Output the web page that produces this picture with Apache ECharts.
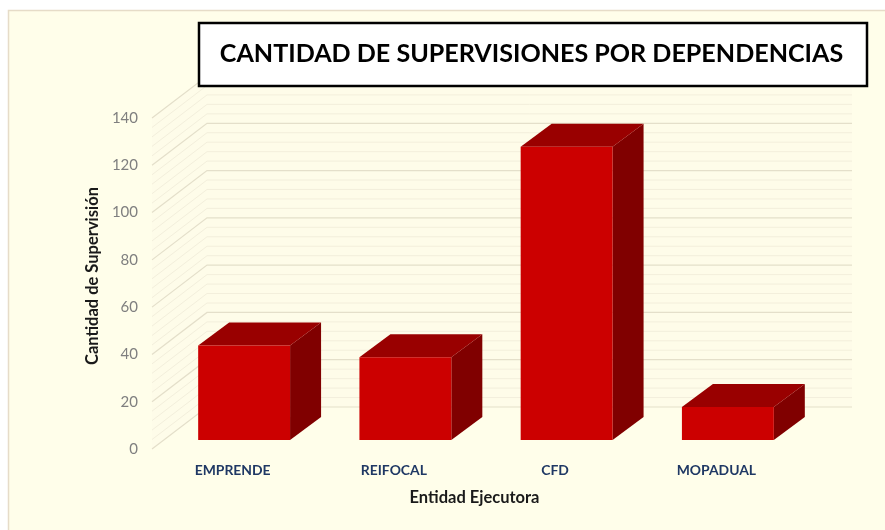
<!DOCTYPE html>
<html>
<head>
<meta charset="utf-8">
<style>html,body{margin:0;padding:0;background:#fff}#c{width:885px;height:530px}</style>
<script src="https://cdn.jsdelivr.net/npm/echarts@6/dist/echarts.min.js"></script>
</head>
<body>
<div id="c"></div>
<script>
const categories = ['EMPRENDE', 'REIFOCAL', 'CFD', 'MOPADUAL'];
const supervisiones = [40, 35, 124, 14];
const majorTicks = [0, 20, 40, 60, 80, 100, 120, 140];
const minorTicks = [4, 8, 12, 16, 24, 28, 32, 36, 44, 48, 52, 56, 64, 68, 72, 76, 84, 88, 92, 96, 104, 108, 112, 116, 124, 128, 132, 136];
const titleText = 'CANTIDAD DE SUPERVISIONES POR DEPENDENCIAS';
const xName = 'Entidad Ejecutora';
const yName = 'Cantidad de Supervisión';

const FONT = 'Lato, "Open Sans", sans-serif';
const WALL_DX = 55, WALL_DY = -42;
const BASE_DX = 11.5, BASE_DY = -9;
const DEPTH_DX = 31, DEPTH_DY = -23;
const BAR_RATIO = 0.57;

function wallItem(params, api) {
  const cs = params.coordSys;
  const yBottom = api.coord([0, 0])[1];
  const yTop = api.coord([0, 140])[1];
  const xL = cs.x, xR = cs.x + cs.width;
  return {
    type: 'polygon',
    shape: { points: [
      [xL, yBottom], [xL + WALL_DX, yBottom + WALL_DY], [xR + WALL_DX, yBottom + WALL_DY],
      [xR + WALL_DX, yTop + WALL_DY], [xL + WALL_DX, yTop + WALL_DY], [xL, yTop]
    ] },
    style: { fill: '#fefce9' }
  };
}

function gridItem(color, width) {
  return function (params, api) {
    const cs = params.coordSys;
    const y = api.coord([0, api.value(1)])[1];
    const xL = cs.x, xR = cs.x + cs.width;
    return {
      type: 'polyline',
      shape: { points: [[xL, y], [xL + WALL_DX, y + WALL_DY], [xR + WALL_DX, y + WALL_DY]] },
      style: { stroke: color, lineWidth: width, fill: null }
    };
  };
}

function barItem(params, api) {
  const idx = api.value(0);
  const base = api.coord([idx, 0]);
  const top = api.coord([idx, api.value(1)]);
  const w = api.size([1, 0])[0] * BAR_RATIO;
  const x0 = base[0] + BASE_DX - w / 2, x1 = x0 + w;
  const yb = base[1] + BASE_DY, yt = top[1] + BASE_DY;
  const poly = (points, fill) => ({ type: 'polygon', shape: { points }, style: { fill } });
  return {
    type: 'group',
    children: [
      poly([[x1, yb], [x1 + DEPTH_DX, yb + DEPTH_DY], [x1 + DEPTH_DX, yt + DEPTH_DY], [x1, yt]], '#800000'),
      poly([[x0, yt], [x0 + DEPTH_DX, yt + DEPTH_DY], [x1 + DEPTH_DX, yt + DEPTH_DY], [x1, yt]], '#990000'),
      poly([[x0, yb], [x1, yb], [x1, yt], [x0, yt]], '#cc0000')
    ]
  };
}

const chart = echarts.init(document.getElementById('c'), null, { renderer: 'canvas' });
chart.setOption({
  animation: false,
  backgroundColor: '#ffffff',
  title: {
    text: titleText,
    left: 526.5, top: 36, textAlign: 'center', z: 20,
    textStyle: { fontFamily: FONT, fontWeight: 'bold', fontSize: 25.1, color: '#000000' }
  },
  graphic: [
    { type: 'rect', z: -100, silent: true, shape: { x: 8.5, y: 10.5, width: 890, height: 530 },
      style: { fill: '#fffeea', stroke: '#e6dcc8', lineWidth: 1.5 } },
    { type: 'rect', z: 10, silent: true, shape: { x: 199, y: 23, width: 668, height: 63 },
      style: { fill: '#ffffff', stroke: '#000000', lineWidth: 2.5 } }
  ],
  grid: { left: 152, top: 118, width: 645, height: 331 },
  xAxis: {
    type: 'category', data: categories,
    name: xName, nameLocation: 'middle', nameGap: 40,
    nameTextStyle: { fontFamily: FONT, fontWeight: 'bold', fontSize: 16.5, color: '#1a1a1a' },
    axisLine: { show: false }, axisTick: { show: false }, splitLine: { show: false },
    axisLabel: { fontFamily: FONT, fontWeight: 'bold', fontSize: 13.9, color: '#1f3864', margin: 15 }
  },
  yAxis: {
    type: 'value', min: 0, max: 140, interval: 20,
    name: yName, nameLocation: 'middle', nameGap: 50, nameRotate: 90,
    nameTextStyle: { fontFamily: FONT, fontWeight: 'bold', fontSize: 16.5, color: '#1a1a1a', padding: [0, 0, 0, 15] },
    axisLine: { show: false }, axisTick: { show: false }, splitLine: { show: false },
    axisLabel: { fontFamily: FONT, fontSize: 15, color: '#7f7f7f', margin: 14, padding: [3, 0, 0, 0] }
  },
  series: [
    { type: 'custom', z: 1, silent: true, clip: false, renderItem: wallItem, data: [[0, 140]] },
    { type: 'custom', z: 2, silent: true, clip: false, renderItem: gridItem('#f3efdc', 1),
      data: minorTicks.map(v => [0, v]) },
    { type: 'custom', z: 3, silent: true, clip: false, renderItem: gridItem('#e4dfca', 1.2),
      data: majorTicks.map(v => [0, v]) },
    { type: 'custom', z: 4, clip: false, renderItem: barItem,
      data: supervisiones.map((v, i) => [i, v]) }
  ]
});
</script>
</body>
</html>
